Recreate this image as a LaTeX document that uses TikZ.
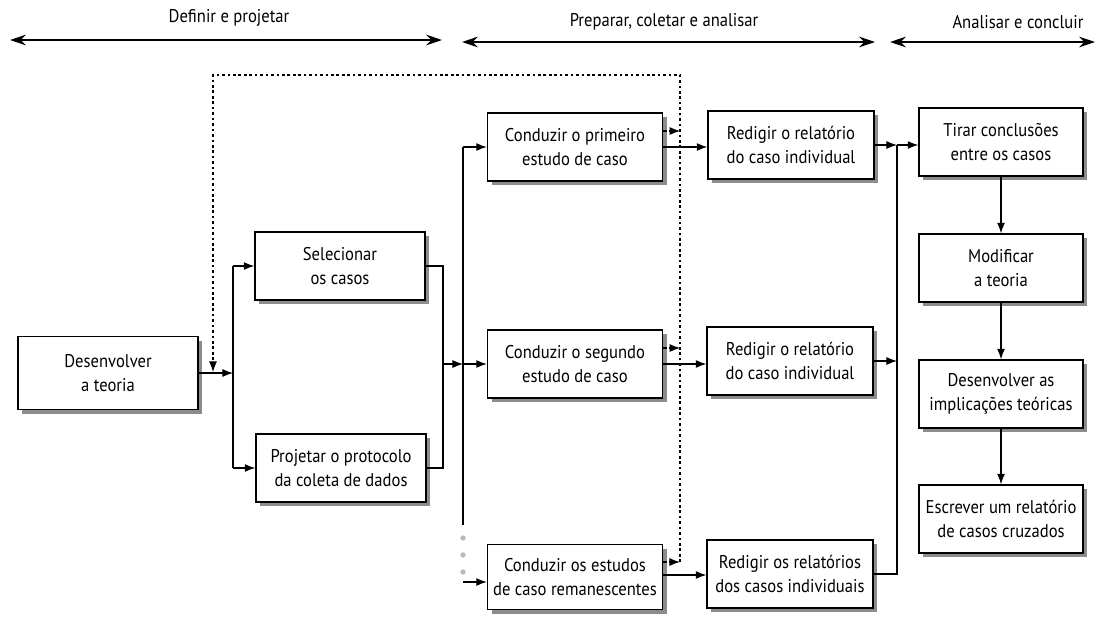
\documentclass[tikz,border=0pt]{standalone}
\usepackage{fontspec}
\setmainfont{PT Sans}[FakeStretch=0.9]
\usetikzlibrary{arrows.meta,positioning,calc}

\begin{document}
\begin{tikzpicture}[x=0.02cm, y=-0.02cm,
    box/.style={draw, thick, fill=white, align=center, inner sep=2pt,
        minimum width=3.4cm, minimum height=1.36cm,
        font=\fontsize{10.5}{13.6}\selectfont},
    boxshadow/.style={fill=black!45, draw=none},
    flow/.style={semithick, -{Latex[length=6pt,width=4.5pt]}},
    wire/.style={semithick},
    fbline/.style={line width=1.6pt, dash pattern=on 1.5pt off 1.6pt},
    fbarr/.style={semithick, dash pattern=on 2pt off 1.5pt, -{Latex[length=6pt,width=4.5pt]}},
    phase/.style={very thick, {Stealth[length=9pt,width=6pt]}-{Stealth[length=9pt,width=6pt]}},
    phaselabel/.style={font=\fontsize{10.5}{12}\selectfont}]
    \useasboundingbox (0,0) rectangle (1097,616);

    % Phase headers
    \node[phaselabel] (ph1) at (229,18) {Definir e projetar};
    \node[phaselabel] (ph2) at (664,22) {Preparar, coletar e analisar};
    \node[phaselabel] (ph3) at (1018,22) {Analisar e concluir};
    \coordinate (ph1a) at (10,40);   \coordinate (ph1b) at (442,40);
    \coordinate (ph2a) at (462,42);  \coordinate (ph2b) at (875,42);
    \coordinate (ph3a) at (890,42);  \coordinate (ph3b) at (1095,42);
    \draw[phase] (ph1a) -- (ph1b);
    \draw[phase] (ph2a) -- (ph2b);
    \draw[phase] (ph3a) -- (ph3b);

    % Box shadows (drawn first, boxes cover them)
    \foreach \cx/\cy/\w/\h in {108/373/180/73, 340/266/170/68, 341/468/170/68,
        575/147/175/68, 575/364/175/68, 575/577/175/65,
        791/145/166/68, 790/361/166/68, 790/574/166/68,
        1001/142/164/68, 1001/268/164/68, 1001/394/164/68, 1001/519/164/68}
        \fill[boxshadow] (\cx-\w/2+4,\cy-\h/2+4) rectangle (\cx+\w/2+4,\cy+\h/2+4);

    % Define and design
    \node[box, minimum width=3.6cm, minimum height=1.46cm] (teoria) at (108,373) {Desenvolver\\a teoria};
    \node[box] (sel) at (340,266) {Selecionar\\os casos};
    \node[box] (proj) at (341,468) {Projetar o protocolo\\da coleta de dados};

    % Prepare, collect and analyse
    \node[box, minimum width=3.5cm] (cond1) at (575,147) {Conduzir o primeiro\\estudo de caso};
    \node[box, minimum width=3.5cm] (cond2) at (575,364) {Conduzir o segundo\\estudo de caso};
    \node[box, minimum width=3.5cm, minimum height=1.3cm] (cond3) at (575,577) {Conduzir os estudos\\de caso remanescentes};
    \node[box, minimum width=3.32cm] (red1) at (791,145) {Redigir o relatório\\do caso individual};
    \node[box, minimum width=3.32cm] (red2) at (790,361) {Redigir o relatório\\do caso individual};
    \node[box, minimum width=3.32cm] (red3) at (790,574) {Redigir os relatórios\\dos casos individuais};

    % Analyse and conclude
    \node[box, minimum width=3.28cm] (tirar) at (1001,142) {Tirar conclusões\\entre os casos};
    \node[box, minimum width=3.28cm] (modif) at (1001,268) {Modificar\\a teoria};
    \node[box, minimum width=3.28cm] (impl) at (1001,394) {Desenvolver as\\implicações teóricas};
    \node[box, minimum width=3.28cm] (escr) at (1001,519) {Escrever um relatório\\de casos cruzados};

    % Junction lines
    \coordinate (jL) at (233,373);
    \coordinate (jA) at (443,364);
    \coordinate (jB) at (463,364);
    \coordinate (jBend) at (463,525);
    \coordinate (jR) at (897,145);

    % teoria -> selecionar / projetar
    \draw[flow] (teoria.east) -- (jL);
    \draw[wire] (jL |- sel.west) -- (jL |- proj.west);
    \draw[flow] (jL |- sel.west) -- (sel.west);
    \draw[flow] (jL |- proj.west) -- (proj.west);

    % selecionar / projetar -> conduzir
    \draw[wire] (sel.east) -- (jA |- sel.east) -- (jA |- proj.east) -- (proj.east);
    \draw[flow] (jA) -- (jB);
    \draw[wire] (jB |- cond1.west) -- (jBend);
    \foreach \y in {538,555,572}
        \fill[gray!55] (463,\y) circle (1.5pt);
    \draw[flow] (jB |- cond1.west) -- (cond1.west);
    \draw[flow] (jB) -- (cond2.west);
    \draw[flow] ($(jB |- cond3.west)+(0,5)$) -- ($(cond3.west)+(0,5)$);

    % conduzir -> redigir
    \draw[flow] (cond1.east) -- (red1.west |- cond1.east);
    \draw[flow] (cond2.east) -- (red2.west |- cond2.east);
    \draw[flow] ($(cond3.east)+(0,-2)$) -- ($(red3.west)+(0,1)$);

    % feedback loop
    \coordinate (fbB) at (680,562);
    \coordinate (fbTR) at (680,75);
    \coordinate (fbTL) at (213,75);
    \coordinate (fbEnd) at (213,372);
    \draw[fbline] (fbB) -- (fbTR) -- (fbTL) -- ($(fbEnd)+(0,-8)$);
    \draw[-{Latex[length=6pt,width=4.5pt]}, semithick] ($(fbEnd)+(0,-9)$) -- (fbEnd);
    \draw[fbarr] ($(cond1.east)+(0,-16)$) -- ($(cond1.east)+(17,-16)$);
    \draw[fbarr] ($(cond2.east)+(0,-16)$) -- ($(cond2.east)+(17,-16)$);
    \draw[fbarr] ($(cond3.east)+(0,-15)$) -- (fbB);

    % redigir -> tirar conclusoes
    \draw[flow] (red1.east) -- (jR);
    \draw[flow] (jR) -- (tirar.west |- jR);
    \draw[flow] (red2.east) -- (jR |- red2.east);
    \draw[wire] (red3.east) -- (jR |- red3.east) -- (jR);

    % right column
    \draw[flow] (tirar) -- (modif);
    \draw[flow] (modif) -- (impl);
    \draw[flow] (impl) -- (escr);
\end{tikzpicture}
\end{document}
